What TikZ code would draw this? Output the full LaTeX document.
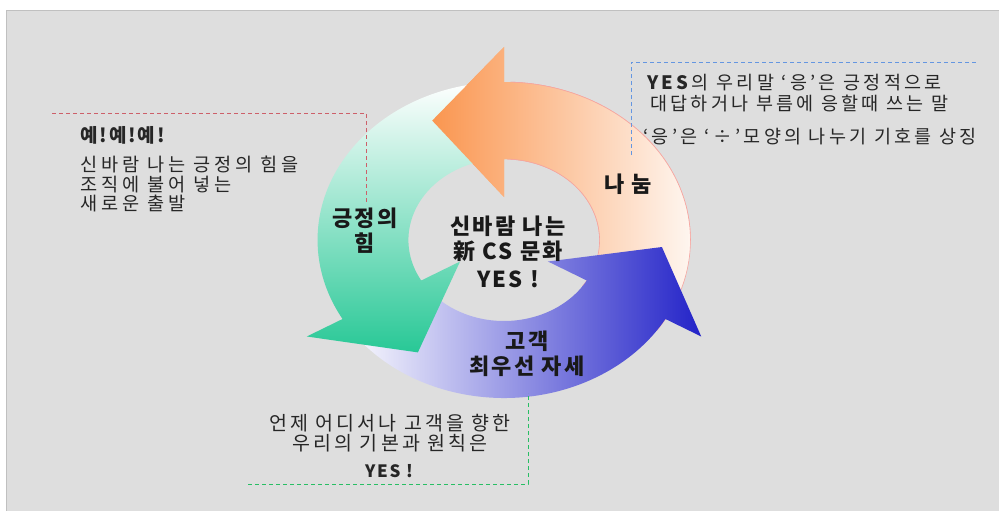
\documentclass[tikz,border=0pt]{standalone}
\usepackage{fontspec}
\setmainfont{Noto Sans CJK KR}[LetterSpace=10]
\usepackage{tikz}
\usetikzlibrary{calc,positioning}
\definecolor{bggray}{RGB}{222,222,222}
\definecolor{bgline}{RGB}{192,192,192}
\definecolor{orng}{RGB}{250,150,80}
\definecolor{grn}{RGB}{40,200,150}
\definecolor{blu}{RGB}{35,35,200}
\definecolor{pnk}{RGB}{245,165,160}
\definecolor{redline}{RGB}{205,95,105}
\definecolor{blueline}{RGB}{100,150,225}
\definecolor{greenline}{RGB}{40,190,100}
\tikzset{%
	ringtext/.style    = {font=\fontsize{22}{25}\selectfont\bfseries, text=black!90, align=center, inner sep=0pt},
	notetext/.style    = {font=\fontsize{18.6}{19.3}\selectfont\addfontfeature{LetterSpace=21}, text=black!85, anchor=west, align=left, inner sep=0pt},
	smallnote/.style   = {font=\fontsize{18.5}{21}\selectfont\addfontfeature{LetterSpace=18}, text=black!85, anchor=west, align=left, inner sep=0pt},
	calloutline/.style = {dash pattern=on 4pt off 3pt, line width=0.8pt},
	orangeshade/.style = {left color=orng, middle color=orng!42, right color=white},
}
\newcommand{\ringarrow}[2]{(#1:158) arc[start angle=#1, end angle=#2, radius=158] -- (#2:193) -- ({#2+27}:134) -- (#2:43) -- (#2:81) arc[start angle=#2, end angle=#1, radius=81] -- cycle}

\begin{document}
\begin{tikzpicture}[x=1pt,y=1pt]
	\useasboundingbox (0,0) rectangle (999,-511);
	\fill[white] (0,0) rectangle (999,-511);
	\fill[bggray] (6,-11) rectangle (999,-511);
	\draw[bgline, line width=1pt] (6,-511) -- (6,-11) -- (999,-11);
	\begin{scope}[shift={(504,-240)}, xscale=1.18]
		\shade[orangeshade] \ringarrow{-35}{90};
		\draw[pnk, line width=0.6pt] (-35:158) arc[start angle=-35, end angle=88, radius=158];
		\draw[pnk, line width=0.6pt] (-35:81) arc[start angle=-35, end angle=88, radius=81];
		\shade[left color=white, middle color=blu!20, right color=blu] \ringarrow{210}{330};
		\shade[top color=white, middle color=grn!35, bottom color=grn] \ringarrow{90}{210};
		\begin{scope}
			\clip (-200,-4) rectangle (200,220);
			\shade[orangeshade] \ringarrow{-35}{90};
			\draw[pnk, line width=0.6pt] (-35:158) arc[start angle=-35, end angle=88, radius=158];
			\draw[pnk, line width=0.6pt] (-35:81) arc[start angle=-35, end angle=88, radius=81];
		\end{scope}
	\end{scope}
	\node[ringtext] (core1) at (508,-226) {신바람 나는};
	\node[ringtext] (core2) at (508,-251) {新 CS 문화};
	\node[ringtext] (core3) at (508,-279) {YES !};
	\node[ringtext] (share) at (628,-184) {나 눔};
	\node[ringtext] (power) at (365,-231) {긍정의\\힘};
	\node[ringtext] (client) at (527,-354) {고객\\최우선 자세};
	\coordinate (redstart) at (52,-113);
	\coordinate (redcorner) at (366,-113);
	\coordinate (redend) at (366,-202);
	\draw[calloutline, redline] (redstart) -- (redcorner) -- (redend);
	\node[notetext, font=\fontsize{19}{19}\selectfont\bfseries] (yes3) at (80,-135) {예!예!예!};
	\node[notetext] (powernote) at (80,-184) {신바람 나는 긍정의 힘을\\조직에 불어 넣는\\새로운 출발};
	\coordinate (bluecorner) at (631,-62);
	\coordinate (blueend) at (978,-62);
	\coordinate (bluedown) at (631,-155);
	\draw[calloutline, blueline] (bluedown) -- (bluecorner) -- (blueend);
	\node[smallnote] (sharenote) at (647,-93.5) {\textbf{YES}의 우리말 ‘응’은 긍정적으로\\\hspace{3pt}대답하거나 부름에 응할때 쓰는 말};
	\node[smallnote] (divnote) at (643,-137) {‘응’은 ‘÷’모양의 나누기 기호를 상징};
	\coordinate (greenstart) at (248,-484);
	\coordinate (greencorner) at (528,-484);
	\coordinate (greenend) at (528,-393);
	\draw[calloutline, greenline] (greenstart) -- (greencorner) -- (greenend);
	\node[notetext, anchor=center, align=center, font=\fontsize{19.5}{20}\selectfont\addfontfeature{LetterSpace=16}] (clientnote) at (390,-433) {언제 어디서나 고객을 향한\\우리의 기본과 원칙은};
	\node[notetext, anchor=center, font=\fontsize{17}{20}\selectfont\bfseries] (yesnote) at (389,-471) {YES !};
\end{tikzpicture}
\end{document}
